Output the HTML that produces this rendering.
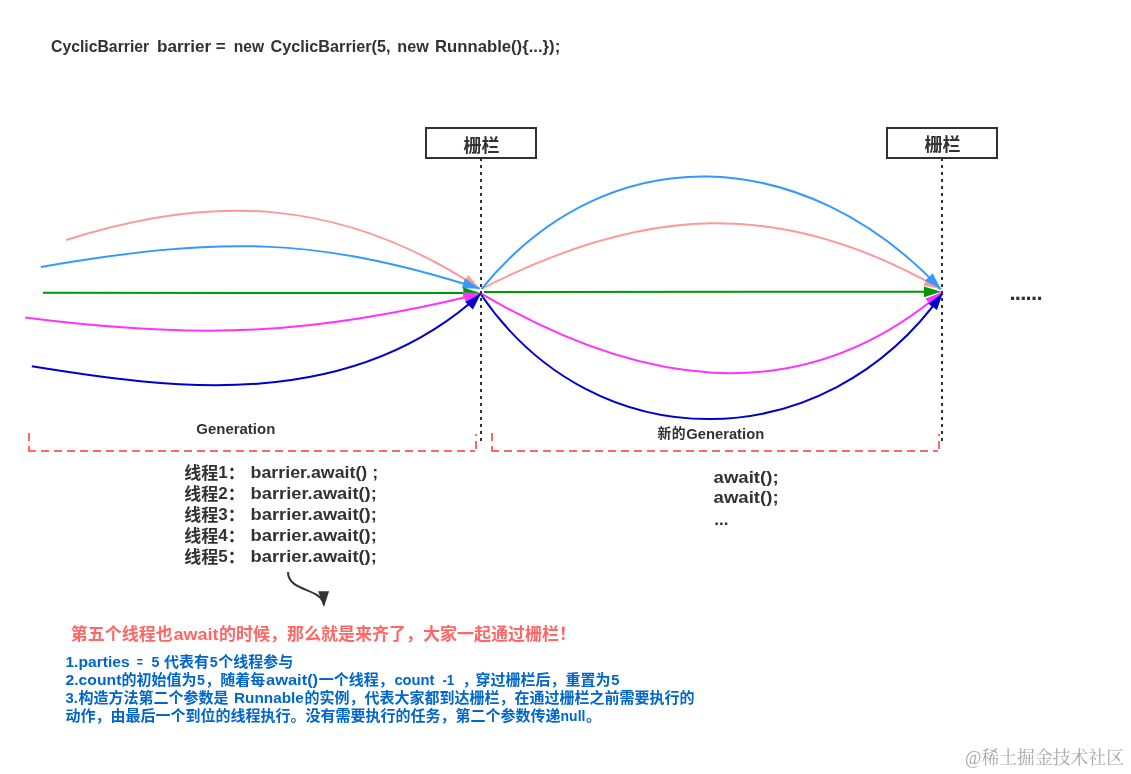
<!DOCTYPE html>
<html lang="zh-CN">
<head>
<meta charset="utf-8">
<title>CyclicBarrier</title>
<style>
html,body{margin:0;padding:0;background:#fff;}
body{width:1131px;height:774px;overflow:hidden;position:relative;}
svg{position:absolute;left:0;top:0;display:block;will-change:transform;}
text{font-family:"Liberation Sans", "Noto Sans CJK SC", sans-serif;font-weight:bold;fill:#323232;}
.t17{font-size:17px;}
.t14{font-size:14px;}
.t15{font-size:15px;} .t15 text{fill:#0066CC;}
.red{font-size:17px;fill:#FF6666;}
.wm{font-family:"Liberation Serif","Noto Serif CJK SC",serif;font-weight:normal;font-size:18px;fill:#a8a8a8;}
</style>
</head>
<body>
<svg width="1131" height="774" viewBox="0 0 1131 774">
<rect x="0" y="0" width="1131" height="774" fill="#ffffff"/>

<!-- title -->
<text class="t17" y="51.8"><tspan x="51.0" textLength="98.2" lengthAdjust="spacingAndGlyphs">CyclicBarrier</tspan> <tspan x="157.0" textLength="54.2" lengthAdjust="spacingAndGlyphs">barrier</tspan> <tspan x="215.7" textLength="9.9" lengthAdjust="spacingAndGlyphs">=</tspan> <tspan x="233.8" textLength="30.2" lengthAdjust="spacingAndGlyphs">new</tspan> <tspan x="270.6" textLength="119.9" lengthAdjust="spacingAndGlyphs">CyclicBarrier(5,</tspan> <tspan x="397.3" textLength="31.4" lengthAdjust="spacingAndGlyphs">new</tspan> <tspan x="435.0" textLength="125.2" lengthAdjust="spacingAndGlyphs">Runnable(){...});</tspan></text>


<!-- barrier boxes -->
<g fill="#ffffff" stroke="#323232" stroke-width="2" shape-rendering="crispEdges">
<rect x="426" y="128" width="110" height="30"/>
<rect x="887" y="128" width="110" height="30"/>
</g>
<text x="481.6" y="151.5" font-size="18" text-anchor="middle">栅栏</text>
<text x="942.5" y="151.4" font-size="18" text-anchor="middle">栅栏</text>

<!-- thread curves -->
<path d="M66.1,240.0 C212.2,193.0 342.0,197.8 479.6,288.6" stroke="#FF9999" stroke-width="2" fill="none"/>
<polygon points="479.6,288.6 462.4,283.9 468.2,274.9" fill="#FF9999"/>
<path d="M40.8,266.9 C218.2,236.7 314.1,235.8 479.6,288.6" stroke="#3399FF" stroke-width="2" fill="none"/>
<polygon points="479.6,288.6 461.8,288.6 465.0,278.4" fill="#3399FF"/>
<path d="M43.0,292.8 L463.3,293.0" stroke="#009900" stroke-width="2" fill="none"/>
<polygon points="480.3,293.0 463.3,298.3 463.3,287.6" fill="#009900"/>
<path d="M25.1,317.6 C199.1,340.0 312.6,335.2 481.1,293.5" stroke="#FF33FF" stroke-width="2" fill="none"/>
<polygon points="481.1,293.5 465.8,302.7 463.3,292.3" fill="#FF33FF"/>
<path d="M31.8,366.3 C166.9,388.2 349.0,415.0 481.0,293.5" stroke="#0000CC" stroke-width="2" fill="none"/>
<polygon points="481.0,293.5 472.9,309.4 465.3,301.9" fill="#0000CC"/>
<path d="M481.6,288.9 C642.5,206.2 779.8,196.6 940.8,289.1" stroke="#FF9999" stroke-width="2" fill="none"/>
<polygon points="940.8,289.1 923.3,285.5 928.6,276.2" fill="#FF9999"/>
<path d="M481.6,288.9 C608.2,133.9 804.4,144.3 940.8,289.1" stroke="#3399FF" stroke-width="2" fill="none"/>
<polygon points="940.8,289.1 925.1,280.7 932.7,273.2" fill="#3399FF"/>
<path d="M484.0,292.0 L924.0,291.8" stroke="#009900" stroke-width="2" fill="none"/>
<polygon points="941.0,291.8 924.0,297.2 924.0,286.5" fill="#009900"/>
<path d="M481.3,293.7 C631.5,381.8 794.8,416.7 941.8,292.2" stroke="#FF33FF" stroke-width="2" fill="none"/>
<polygon points="941.8,292.2 932.0,307.1 925.2,298.8" fill="#FF33FF"/>
<path d="M481.3,295.0 C595.8,462.3 824.4,459.3 942.7,293.1" stroke="#0000CC" stroke-width="2" fill="none"/>
<polygon points="942.7,293.1 937.0,310.0 928.4,303.7" fill="#0000CC"/>

<!-- dotted barrier lines -->
<g stroke="#323232" stroke-width="2" stroke-dasharray="3 4" shape-rendering="crispEdges">
<line x1="481" y1="158" x2="481" y2="441"/>
<line x1="942" y1="158" x2="942" y2="441"/>
</g>

<!-- trailing dots -->
<text x="1009.4" y="299.6" font-size="22" letter-spacing="-0.71">......</text>

<!-- generation brackets -->
<g fill="#FF6666" shape-rendering="crispEdges"><rect x="28" y="433" width="2" height="8"/><rect x="28" y="446" width="2" height="6"/><rect x="28" y="450" width="8" height="2"/><rect x="41" y="450" width="8" height="2"/><rect x="54" y="450" width="8" height="2"/><rect x="67" y="450" width="8" height="2"/><rect x="80" y="450" width="8" height="2"/><rect x="93" y="450" width="8" height="2"/><rect x="106" y="450" width="8" height="2"/><rect x="119" y="450" width="8" height="2"/><rect x="132" y="450" width="8" height="2"/><rect x="145" y="450" width="8" height="2"/><rect x="158" y="450" width="8" height="2"/><rect x="171" y="450" width="8" height="2"/><rect x="184" y="450" width="8" height="2"/><rect x="197" y="450" width="8" height="2"/><rect x="210" y="450" width="8" height="2"/><rect x="223" y="450" width="8" height="2"/><rect x="236" y="450" width="8" height="2"/><rect x="249" y="450" width="8" height="2"/><rect x="262" y="450" width="8" height="2"/><rect x="275" y="450" width="8" height="2"/><rect x="288" y="450" width="8" height="2"/><rect x="301" y="450" width="8" height="2"/><rect x="314" y="450" width="8" height="2"/><rect x="327" y="450" width="8" height="2"/><rect x="340" y="450" width="8" height="2"/><rect x="353" y="450" width="8" height="2"/><rect x="366" y="450" width="8" height="2"/><rect x="379" y="450" width="8" height="2"/><rect x="392" y="450" width="8" height="2"/><rect x="405" y="450" width="8" height="2"/><rect x="418" y="450" width="8" height="2"/><rect x="431" y="450" width="8" height="2"/><rect x="444" y="450" width="8" height="2"/><rect x="457" y="450" width="8" height="2"/><rect x="470" y="450" width="5" height="2"/><rect x="475" y="441" width="2" height="8"/><rect x="475" y="434" width="2" height="2"/><rect x="491" y="433" width="2" height="8"/><rect x="491" y="446" width="2" height="6"/><rect x="491" y="450" width="8" height="2"/><rect x="504" y="450" width="8" height="2"/><rect x="517" y="450" width="8" height="2"/><rect x="530" y="450" width="8" height="2"/><rect x="543" y="450" width="8" height="2"/><rect x="556" y="450" width="8" height="2"/><rect x="569" y="450" width="8" height="2"/><rect x="582" y="450" width="8" height="2"/><rect x="595" y="450" width="8" height="2"/><rect x="608" y="450" width="8" height="2"/><rect x="621" y="450" width="8" height="2"/><rect x="634" y="450" width="8" height="2"/><rect x="647" y="450" width="8" height="2"/><rect x="660" y="450" width="8" height="2"/><rect x="673" y="450" width="8" height="2"/><rect x="686" y="450" width="8" height="2"/><rect x="699" y="450" width="8" height="2"/><rect x="712" y="450" width="8" height="2"/><rect x="725" y="450" width="8" height="2"/><rect x="738" y="450" width="8" height="2"/><rect x="751" y="450" width="8" height="2"/><rect x="764" y="450" width="8" height="2"/><rect x="777" y="450" width="8" height="2"/><rect x="790" y="450" width="8" height="2"/><rect x="803" y="450" width="8" height="2"/><rect x="816" y="450" width="8" height="2"/><rect x="829" y="450" width="8" height="2"/><rect x="842" y="450" width="8" height="2"/><rect x="855" y="450" width="8" height="2"/><rect x="868" y="450" width="8" height="2"/><rect x="881" y="450" width="8" height="2"/><rect x="894" y="450" width="8" height="2"/><rect x="907" y="450" width="8" height="2"/><rect x="920" y="450" width="8" height="2"/><rect x="933" y="450" width="5" height="2"/><rect x="938" y="441" width="2" height="8"/><rect x="938" y="434" width="2" height="2"/></g>
<text class="t14" x="196.3" y="433.5" textLength="79" lengthAdjust="spacingAndGlyphs">Generation</text>
<text class="t14" y="438.6"><tspan x="657.5" dy="-0.2" font-size="13.8" letter-spacing="0.4">新的</tspan><tspan x="686.2" dy="0.2" textLength="78" lengthAdjust="spacingAndGlyphs">Generation</tspan></text>

<!-- thread list -->
<g class="t17">
<text y="477.6"><tspan x="184.3" dy="1.2">线程</tspan><tspan dy="-1.2">1</tspan><tspan dy="1.2">：</tspan><tspan x="250.6" dy="-1.2" textLength="127.5" lengthAdjust="spacingAndGlyphs">barrier.await() ;</tspan></text>
<text y="498.6"><tspan x="184.3" dy="1.2">线程</tspan><tspan dy="-1.2">2</tspan><tspan dy="1.2">：</tspan><tspan x="250.6" dy="-1.2" textLength="126.2" lengthAdjust="spacingAndGlyphs">barrier.await();</tspan></text>
<text y="519.6"><tspan x="184.3" dy="1.2">线程</tspan><tspan dy="-1.2">3</tspan><tspan dy="1.2">：</tspan><tspan x="250.6" dy="-1.2" textLength="126.2" lengthAdjust="spacingAndGlyphs">barrier.await();</tspan></text>
<text y="540.6"><tspan x="184.3" dy="1.2">线程</tspan><tspan dy="-1.2">4</tspan><tspan dy="1.2">：</tspan><tspan x="250.6" dy="-1.2" textLength="126.2" lengthAdjust="spacingAndGlyphs">barrier.await();</tspan></text>
<text y="561.6"><tspan x="184.3" dy="1.2">线程</tspan><tspan dy="-1.2">5</tspan><tspan dy="1.2">：</tspan><tspan x="250.6" dy="-1.2" textLength="126.2" lengthAdjust="spacingAndGlyphs">barrier.await();</tspan></text>
</g>
<g class="t17">
<text x="713.6" y="482.6" textLength="65" lengthAdjust="spacingAndGlyphs">await();</text>
<text x="713.6" y="503.4" textLength="65" lengthAdjust="spacingAndGlyphs">await();</text>
<text x="714.3" y="524.6">...</text>
</g>

<!-- small curved arrow -->
<path d="M288,572 C288,592 322,588 324,605" stroke="#323232" stroke-width="2" fill="none"/>
<polygon points="318.1,591.2 329.1,591.2 323.9,607" fill="#323232"/>

<!-- red note -->
<text class="red" x="70.8" y="640">第五个线程也<tspan x="173.6" textLength="45" lengthAdjust="spacingAndGlyphs">await</tspan><tspan x="219">的时候，那么就是来齐了，大家一起通过栅栏！</tspan></text>

<!-- blue notes -->
<g class="t15">
<text y="667"><tspan x="65.4" textLength="64.4" lengthAdjust="spacingAndGlyphs">1.parties</tspan><tspan x="136.8" textLength="6.1" lengthAdjust="spacingAndGlyphs">=</tspan><tspan x="151.6" textLength="7.9" lengthAdjust="spacingAndGlyphs">5</tspan><tspan x="164">代表有</tspan><tspan x="209.8" textLength="7.9" lengthAdjust="spacingAndGlyphs">5</tspan><tspan x="218.3">个线程参与</tspan></text>
<text y="685"><tspan x="65.4" textLength="56" lengthAdjust="spacingAndGlyphs">2.count</tspan><tspan x="121.6">的初始值为</tspan><tspan x="196.9" textLength="7.9" lengthAdjust="spacingAndGlyphs">5</tspan><tspan x="205.3">，随着每</tspan><tspan x="266.1" textLength="52" lengthAdjust="spacingAndGlyphs">await()</tspan><tspan x="318.7">一个线程，</tspan><tspan x="394.4" textLength="40.1" lengthAdjust="spacingAndGlyphs">count</tspan><tspan x="442.4" textLength="11.9" lengthAdjust="spacingAndGlyphs">-1</tspan><tspan x="462.5">，</tspan><tspan x="475.6">穿过栅栏后，重置为</tspan><tspan x="611.2" textLength="8.2" lengthAdjust="spacingAndGlyphs">5</tspan></text>
<text y="703"><tspan x="65.4" textLength="12.4" lengthAdjust="spacingAndGlyphs">3.</tspan><tspan x="78.5">构造方法第二个参数是</tspan><tspan x="234" textLength="69.9" lengthAdjust="spacingAndGlyphs">Runnable</tspan><tspan x="304.4">的实例，代表大家都到达栅栏，在通过栅栏之前需要执行的</tspan></text>
<text y="721"><tspan x="65.4">动作，由最后一个到位的线程执行。没有需要执行的任务，第二个参数传递</tspan><tspan x="560.6" textLength="24.8" lengthAdjust="spacingAndGlyphs">null</tspan><tspan x="586">。</tspan></text>
</g>

<!-- watermark -->
<text class="wm" x="965" y="764" textLength="159" lengthAdjust="spacingAndGlyphs">@稀土掘金技术社区</text>
</svg>
</body>
</html>
